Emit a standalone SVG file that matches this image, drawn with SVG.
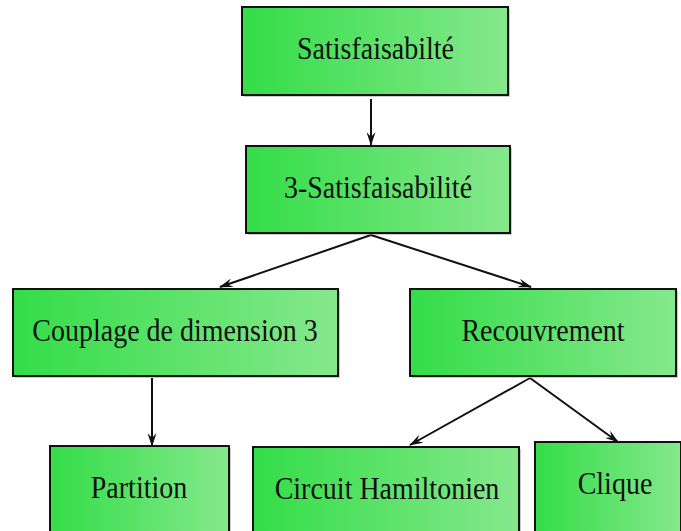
<svg xmlns="http://www.w3.org/2000/svg" width="681" height="531" viewBox="0 0 681 531">
<defs>
<linearGradient id="g" x1="0" y1="0" x2="1" y2="0">
<stop offset="0" stop-color="#33dd48"/>
<stop offset="1" stop-color="#86e88c"/>
</linearGradient>
<marker id="a" viewBox="0 0 14 9" refX="13" refY="4.5" markerWidth="14" markerHeight="9" markerUnits="userSpaceOnUse" orient="auto">
<path d="M0,0 L14,4.5 L0,9 L5,4.5 Z" fill="#111"/>
</marker>
<style>
.sh{fill:#999;opacity:0.5}
.b{fill:url(#g);stroke:#111;stroke-width:2}
.t{font-family:"Liberation Serif",serif;font-size:28px;fill:#111;text-anchor:middle}
.c{stroke:#111;stroke-width:2;fill:none;marker-end:url(#a)}
</style>
</defs>
<g id="connectors">
<line class="c" x1="371" y1="99" x2="371" y2="145"/>
<line class="c" x1="371" y1="235" x2="220" y2="287"/>
<line class="c" x1="371" y1="235" x2="531" y2="287"/>
<line class="c" x1="152" y1="378" x2="152" y2="446"/>
<line class="c" x1="530" y1="378" x2="410" y2="445"/>
<line class="c" x1="530" y1="378" x2="618" y2="442"/>
</g>
<g id="n1"><rect class="sh" x="244" y="9" width="266" height="88"/><rect class="b" x="242" y="7" width="266" height="88"/><text class="t" transform="translate(375.5,59) scale(1,1.12)">Satisfaisabilté</text></g>
<g id="n2"><rect class="sh" x="248" y="148" width="264" height="87"/><rect class="b" x="246" y="146" width="264" height="87"/><text class="t" transform="translate(378,198) scale(1,1.12)">3-Satisfaisabilité</text></g>
<g id="n3"><rect class="sh" x="15" y="291" width="325" height="87"/><rect class="b" x="13" y="289" width="325" height="87"/><text class="t" transform="translate(175,341) scale(1,1.12)">Couplage de dimension 3</text></g>
<g id="n4"><rect class="sh" x="412" y="291" width="266" height="87"/><rect class="b" x="410" y="289" width="266" height="87"/><text class="t" transform="translate(543,341) scale(1,1.12)">Recouvrement</text></g>
<g id="n5"><rect class="sh" x="52" y="448" width="179" height="90"/><rect class="b" x="50" y="446" width="179" height="90"/><text class="t" transform="translate(139,498) scale(1,1.12)">Partition</text></g>
<g id="n6"><rect class="sh" x="255" y="449" width="266" height="90"/><rect class="b" x="253" y="447" width="266" height="90"/><text class="t" transform="translate(387,499) scale(1,1.12)">Circuit Hamiltonien</text></g>
<g id="n7"><rect class="sh" x="537" y="444" width="146" height="90"/><rect class="b" x="535" y="442" width="146" height="90"/><text class="t" transform="translate(615,494) scale(1,1.12)">Clique</text></g>
</svg>
